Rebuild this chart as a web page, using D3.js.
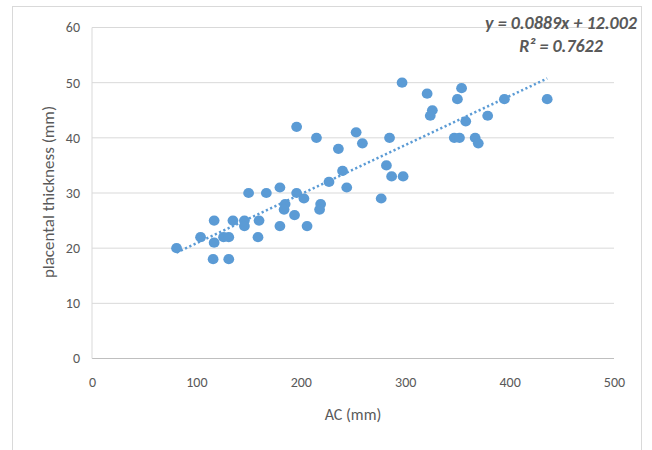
<!DOCTYPE html>
<html lang="en">
<head>
    <meta charset="UTF-8">
    <title>AC vs placental thickness</title>
    <script src="https://d3js.org/d3.v7.min.js"></script>
    <style>
        body { margin: 0; background: #fff; }
        svg text { font-family: Calibri, Carlito, 'Liberation Sans', sans-serif; fill: #595959; }
    </style>
</head>
<body>
<svg id="chart" width="652" height="450"></svg>
<script>
    // AC (mm) and placental thickness (mm)
    const acValues = [81, 104, 117, 117, 116, 131, 126, 131, 135, 146, 146, 159, 160, 150, 167, 180, 180, 185,
        184, 194, 196, 203, 206, 219, 218, 227, 215, 236, 253, 259, 240, 244, 277, 282, 287, 298, 285, 297,
        321, 326, 324, 350, 354, 358, 347, 352, 367, 370, 379, 395, 436, 196];
    const thicknessValues = [20, 22, 25, 21, 18, 18, 22, 22, 25, 25, 24, 22, 25, 30, 30, 31, 24, 28,
        27, 26, 30, 29, 24, 28, 27, 32, 40, 38, 41, 39, 34, 31, 29, 35, 33, 33, 40, 50,
        48, 45, 44, 47, 49, 43, 40, 40, 40, 39, 44, 47, 47, 42];
    const xTicks = [0, 100, 200, 300, 400, 500];
    const yTicks = [0, 10, 20, 30, 40, 50, 60];
    const slope = 0.0889, intercept = 12.002;
    const equationLabel = "y = 0.0889x + 12.002";
    const r2Label = "R² = 0.7622";

    const points = acValues.map((v, i) => ({ x: v, y: thicknessValues[i] }));

    const svg = d3.select("#chart");
    const blue = "#5b9bd5";

    // chart frame
    svg.append("rect")
        .attr("x", 12.5).attr("y", 6.5)
        .attr("width", 629).attr("height", 460)
        .attr("fill", "#fff").attr("stroke", "#d9d9d9");

    const x = d3.scaleLinear().domain([0, 500]).range([92, 614]);
    const y = d3.scaleLinear().domain([0, 60]).range([358.5, 27.5]);

    // gridlines
    svg.append("g").selectAll("line")
        .data(yTicks.filter(d => d > 0))
        .join("line")
        .attr("x1", x(0)).attr("x2", x(500))
        .attr("y1", d => y(d)).attr("y2", d => y(d))
        .attr("stroke", "#d9d9d9");

    // axis lines
    svg.append("line")
        .attr("x1", x(0)).attr("x2", x(500))
        .attr("y1", y(0)).attr("y2", y(0))
        .attr("stroke", "#bfbfbf");
    svg.append("line")
        .attr("x1", x(0)).attr("x2", x(0))
        .attr("y1", y(0)).attr("y2", y(60))
        .attr("stroke", "#d9d9d9");

    const yAxis = svg.append("g")
        .attr("transform", `translate(${x(0)},0)`)
        .call(d3.axisLeft(y).tickValues(yTicks).tickSize(0).tickPadding(12));
    const xAxis = svg.append("g")
        .attr("transform", `translate(0,${y(0)})`)
        .call(d3.axisBottom(x).tickValues(xTicks).tickSize(0).tickPadding(19));
    [xAxis, yAxis].forEach(a => {
        a.select(".domain").remove();
        a.selectAll("text").attr("font-size", 14).style("fill", "#595959")
            .style("font-family", "Calibri, Carlito, 'Liberation Sans', sans-serif");
    });

    // axis titles
    svg.append("text")
        .attr("x", 353).attr("y", 420)
        .attr("text-anchor", "middle")
        .attr("font-size", 16)
        .text("AC (mm)");
    svg.append("text")
        .attr("transform", "translate(54,192) rotate(-90)")
        .attr("text-anchor", "middle")
        .attr("font-size", 17)
        .text("placental thickness (mm)");

    // linear trendline across the data range
    const xMin = d3.min(acValues), xMax = d3.max(acValues);
    svg.append("line")
        .attr("x1", x(xMin)).attr("y1", y(slope * xMin + intercept))
        .attr("x2", x(xMax)).attr("y2", y(slope * xMax + intercept))
        .attr("stroke", blue)
        .attr("stroke-width", 2.5)
        .attr("stroke-dasharray", "2.2,2.5");

    // points
    svg.append("g").selectAll("ellipse")
        .data(points)
        .join("ellipse")
        .attr("cx", d => x(d.x))
        .attr("cy", d => y(d.y))
        .attr("rx", 5.4).attr("ry", 5.1)
        .attr("fill", blue);

    // trendline label, two centred lines
    const label = svg.append("text")
        .attr("text-anchor", "middle")
        .attr("font-size", 18)
        .attr("font-weight", "bold")
        .attr("font-style", "italic");
    label.append("tspan").attr("x", 561).attr("y", 29).text(equationLabel);
    label.append("tspan").attr("x", 561).attr("y", 52).text(r2Label);
</script>
</body>
</html>
